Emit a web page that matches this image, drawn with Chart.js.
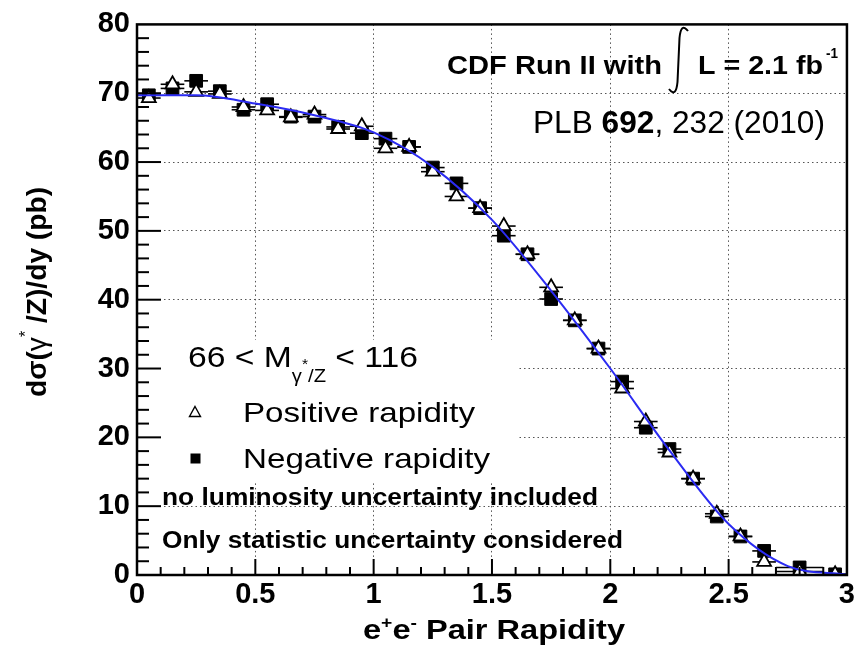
<!DOCTYPE html>
<html>
<head>
  <script src="https://cdn.jsdelivr.net/npm/chart.js"></script>
  <style>
    body { margin: 0; background: #fff; }
  </style>
</head>
<body>
  <canvas id="rapChart" width="858" height="652"></canvas>

  <script>
    // bin centres (|y|), last bin is wider
    const binCenters = [0.05, 0.15, 0.25, 0.35, 0.45, 0.55, 0.65, 0.75, 0.85, 0.95,
                        1.05, 1.15, 1.25, 1.35, 1.45, 1.55, 1.65, 1.75, 1.85, 1.95,
                        2.05, 2.15, 2.25, 2.35, 2.45, 2.55, 2.65, 2.8, 2.95];
    const binHalfWidths = [0.05, 0.05, 0.05, 0.05, 0.05, 0.05, 0.05, 0.05, 0.05, 0.05,
                           0.05, 0.05, 0.05, 0.05, 0.05, 0.05, 0.05, 0.05, 0.05, 0.05,
                           0.05, 0.05, 0.05, 0.05, 0.05, 0.05, 0.05, 0.1, 0.05];

    const positiveRapidity = [69.3, 71.3, 70.2, 69.9, 68.0, 67.5, 66.5, 66.9, 64.8, 65.2,
                              62.0, 62.2, 58.6, 55.0, 53.3, 50.7, 46.6, 41.8, 37.0, 32.9,
                              27.1, 22.3, 17.8, 14.0, 8.9, 5.6, 1.9, 0.5, 0.1];
    const negativeRapidity = [69.7, 70.7, 71.8, 70.3, 67.6, 68.4, 66.6, 66.6, 65.1, 64.2,
                              63.4, 62.2, 59.2, 56.9, 53.3, 49.3, 46.6, 40.1, 37.0, 32.9,
                              28.1, 21.4, 18.3, 14.0, 8.5, 5.6, 3.5, 1.1, 0.1];

    // theory curve
    const fitX = [0, 0.25, 0.5, 0.75, 1.0, 1.25, 1.5, 1.75, 2.0, 2.25, 2.5, 2.75, 3.0];
    const fitY = [69.7, 69.7, 68.5, 66.8, 64.3, 59.3, 51.6, 41.3, 30.0, 18.1, 7.4, 1.3, 0.05];

    const xTickLabels = ['0', '0.5', '1', '1.5', '2', '2.5', '3'];
    const yTickLabels = ['0', '10', '20', '30', '40', '50', '60', '70', '80'];

    const FONT = '"Liberation Sans", Arial, sans-serif';

    // draws a row of text pieces, squeezed/stretched to a given width
    function drawRuns(ctx, runs, x, y, width, align) {
      let total = 0;
      const w = runs.map(r => {
        ctx.font = r[1];
        const m = ctx.measureText(r[0]).width;
        total += m;
        return m;
      });
      const sx = width ? width / total : 1;
      ctx.save();
      ctx.translate(x, y);
      ctx.scale(sx, 1);
      ctx.textBaseline = 'alphabetic';
      ctx.textAlign = 'left';
      let cx = align === 'center' ? -total / 2 : 0;
      runs.forEach((r, i) => {
        ctx.font = r[1];
        ctx.fillText(r[0], cx, r[2] || 0);
        cx += w[i];
      });
      ctx.restore();
    }

    const decorations = {
      id: 'decorations',
      beforeDatasetsDraw(chart) {
        const ctx = chart.ctx;
        const xs = chart.scales.x, ys = chart.scales.y;
        // white box behind the legend block
        ctx.save();
        ctx.fillStyle = '#fff';
        ctx.fillRect(chart.chartArea.left, 340, 517 - chart.chartArea.left, 143);

        // horizontal error bars (bin widths)
        ctx.strokeStyle = '#000';
        ctx.lineWidth = 1.6;
        [positiveRapidity, negativeRapidity].forEach(series => {
          series.forEach((v, i) => {
            const y = ys.getPixelForValue(v);
            ctx.beginPath();
            ctx.moveTo(xs.getPixelForValue(binCenters[i] - binHalfWidths[i]), y);
            ctx.lineTo(xs.getPixelForValue(binCenters[i] + binHalfWidths[i]), y);
            ctx.stroke();
          });
        });
        ctx.restore();
      },
      afterDatasetsDraw(chart) {
        const ctx = chart.ctx;
        const xs = chart.scales.x, ys = chart.scales.y;
        const { left, right, top, bottom } = chart.chartArea;
        ctx.save();

        // ticks on left and bottom axes
        ctx.strokeStyle = '#000';
        ctx.lineWidth = 2;
        for (let v = 2; v < 80; v += 2) {
          const y = ys.getPixelForValue(v);
          const len = v % 10 === 0 ? 24 : 12;
          ctx.beginPath(); ctx.moveTo(left, y); ctx.lineTo(left + len, y); ctx.stroke();
        }
        for (let k = 1; k < 30; k++) {
          const x = xs.getPixelForValue(k / 10);
          const len = k % 5 === 0 ? 16 : 8;
          ctx.beginPath(); ctx.moveTo(x, bottom); ctx.lineTo(x, bottom - len); ctx.stroke();
        }

        // frame
        ctx.lineWidth = 2.5;
        ctx.strokeRect(left, top, right - left, bottom - top);

        ctx.fillStyle = '#000';
        // top-right labels
        drawRuns(ctx, [['CDF Run II with', 'bold 26px ' + FONT]], 447, 74, 215);
        ctx.lineWidth = 2;
        ctx.beginPath();
        ctx.moveTo(688, 31);
        ctx.quadraticCurveTo(681, 22, 679.5, 38);
        ctx.lineTo(677.5, 82);
        ctx.quadraticCurveTo(676, 98, 669, 89);
        ctx.stroke();
        drawRuns(ctx, [['L = 2.1 fb', 'bold 26px ' + FONT]], 698, 74, 125);
        drawRuns(ctx, [['-1', 'bold 15px ' + FONT]], 826, 58, 12);
        drawRuns(ctx, [['PLB ', '32px ' + FONT], ['692', 'bold 32px ' + FONT],
                       [', 232 (2010)', '32px ' + FONT]], 533, 133, 292);

        // legend block
        drawRuns(ctx, [['66 < M', '30px ' + FONT], ['\u03b3', '18px ' + FONT, 15],
                       ['*', '14px ' + FONT, 2], ['/Z', '18px ' + FONT, 15],
                       [' < 116', '30px ' + FONT]], 188, 367, 230);
        drawRuns(ctx, [['Positive rapidity', '28px ' + FONT]], 243, 422, 232);
        drawRuns(ctx, [['Negative rapidity', '28px ' + FONT]], 243, 468, 247);
        ctx.lineWidth = 1.4;
        ctx.beginPath();
        ctx.moveTo(195, 406.5); ctx.lineTo(200.5, 416.5); ctx.lineTo(189.5, 416.5); ctx.closePath();
        ctx.stroke();
        ctx.fillRect(190.5, 453.5, 10, 10);

        drawRuns(ctx, [['no luminosity uncertainty included', 'bold 23px ' + FONT]], 162, 505, 436);
        drawRuns(ctx, [['Only statistic uncertainty considered', 'bold 23px ' + FONT]], 162, 548, 461);

        // axis titles
        drawRuns(ctx, [['e', 'bold 27px ' + FONT], ['+', 'bold 16px ' + FONT, -11],
                       ['e', 'bold 27px ' + FONT], ['-', 'bold 16px ' + FONT, -11],
                       [' Pair Rapidity', 'bold 27px ' + FONT]], 363, 639, 262);

        ctx.translate(46, 292);
        ctx.rotate(-Math.PI / 2);
        drawRuns(ctx, [['d\u03c3(', 'bold 28px ' + FONT], ['\u03b3', '28px ' + FONT],
                       ['*', '16px ' + FONT, -15], [' /Z)/dy (pb)', 'bold 28px ' + FONT]],
                 0, 0, 210, 'center');
        ctx.restore();
      }
    };

    const ctx = document.getElementById('rapChart').getContext('2d');
    const rapChart = new Chart(ctx, {
      type: 'scatter',
      data: {
        datasets: [
          {
            type: 'line',
            label: 'fit',
            data: fitX.map((x, i) => ({ x: x, y: fitY[i] })),
            borderColor: '#2b2bf2',
            borderWidth: 2,
            pointRadius: 0,
            cubicInterpolationMode: 'monotone',
            fill: false,
            order: 0,
          },
          {
            label: 'Positive rapidity',
            data: binCenters.map((x, i) => ({ x: x, y: positiveRapidity[i] })),
            pointStyle: 'triangle',
            pointRadius: 8,
            backgroundColor: '#fff',
            borderColor: '#000',
            borderWidth: 1.8,
            order: 1,
          },
          {
            label: 'Negative rapidity',
            data: binCenters.map((x, i) => ({ x: x, y: negativeRapidity[i] })),
            pointStyle: 'rect',
            pointRadius: 9,
            backgroundColor: '#000',
            borderColor: '#000',
            borderWidth: 1,
            order: 2,
          },
        ],
      },
      options: {
        responsive: false,
        animation: false,
        devicePixelRatio: 1,
        layout: {
          autoPadding: false,
          padding: { top: 20, right: 5, left: 0, bottom: 0 },
        },
        scales: {
          x: {
            type: 'linear',
            min: 0,
            max: 3,
            afterFit: s => { s.height = 77; },
            ticks: {
              stepSize: 0.5,
              autoSkip: false,
              maxRotation: 0,
              padding: 3,
              color: '#000',
              callback: (v, i) => xTickLabels[i],
              font: { family: FONT, size: 29, weight: 'bold' },
            },
            grid: { color: '#555', lineWidth: 1, drawTicks: false },
            border: { display: false, dash: [1.5, 3] },
          },
          y: {
            min: 0,
            max: 80,
            afterFit: s => { s.width = 137; },
            ticks: {
              stepSize: 10,
              padding: 7,
              color: '#000',
              callback: (v, i) => yTickLabels[i],
              font: { family: FONT, size: 29, weight: 'bold' },
            },
            grid: { color: '#555', lineWidth: 1, drawTicks: false },
            border: { display: false, dash: [1.5, 3] },
          },
        },
        plugins: {
          legend: { display: false },
          tooltip: { enabled: false },
        },
      },
      plugins: [decorations],
    });
  </script>
</body>
</html>
